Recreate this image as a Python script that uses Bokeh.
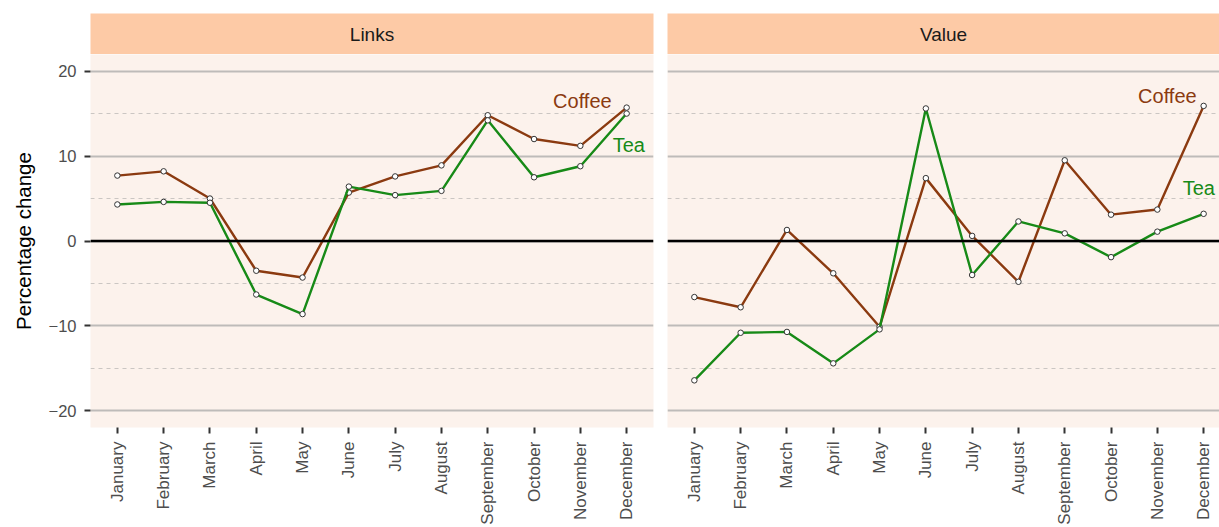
import math
from bokeh.plotting import figure
from bokeh.layouts import column, row
from bokeh.models import Range1d, FixedTicker, Span
from bokeh.core.properties import value
from bokeh.embed import file_html
from bokeh.resources import INLINE

# ---------------- data ----------------
MONTHS = ["January", "February", "March", "April", "May", "June",
          "July", "August", "September", "October", "November", "December"]
PANELS = ["Links", "Value"]
LINKS_COFFEE = [7.7, 8.2, 5.0, -3.5, -4.3, 5.7, 7.6, 8.9, 14.8, 12.0, 11.2, 15.7]
LINKS_TEA = [4.3, 4.6, 4.5, -6.3, -8.6, 6.4, 5.4, 5.9, 14.2, 7.5, 8.8, 15.0]
VALUE_COFFEE = [-6.6, -7.8, 1.3, -3.8, -10.1, 7.4, 0.6, -4.8, 9.5, 3.1, 3.7, 15.9]
VALUE_TEA = [-16.4, -10.8, -10.7, -14.4, -10.4, 15.6, -4.0, 2.3, 0.9, -1.9, 1.1, 3.2]
SERIES = ["Coffee", "Tea"]
Y_TICKS = [-20, -10, 0, 10, 20]
Y_MINOR = [-15, -5, 5, 15]
Y_LABEL = "Percentage change"

# ---------------- style ----------------
FONT = "Liberation Sans"
COFFEE_C = "#8B3A10"
TEA_C = "#178A17"
STRIP_BG = "#FDCAA6"
PANEL_BG = "#FCF2EC"
GRID_C = "#BEBBB9"
MINOR_C = "#CBC6C3"
TICK_C = "#333333"
LABEL_C = "#4D4D4D"

STRIP_TOP = 13
STRIP_FRAME = 41
MAIN_FRAME = 374
BOTTOM_B = 99
Y_LO, Y_HI = -21.95, 21.95
X_LO = -0.58
PX_PER_UNIT = 563 / 12.16

X = list(range(len(MONTHS)))


def strip_fig(name, width, left_b, right_b):
    s = figure(width=width, height=STRIP_TOP + STRIP_FRAME, output_backend="svg",
               toolbar_location=None,
               x_range=Range1d(0, 1), y_range=Range1d(0, 1),
               x_axis_location=None, y_axis_location=None,
               min_border_left=left_b, min_border_right=right_b,
               min_border_top=STRIP_TOP, min_border_bottom=0)
    s.grid.visible = False
    s.background_fill_color = STRIP_BG
    s.border_fill_color = "white"
    s.outline_line_color = None
    s.text(x=[0.5], y=[0.5], text=[name], text_align="center", text_baseline="middle",
           text_font=value(FONT), text_font_size="19px", text_color="#1A1A1A")
    return s


def main_fig(coffee, tea, width, x_end, left_b, right_b, show_y, lab):
    p = figure(width=width, height=MAIN_FRAME + BOTTOM_B, output_backend="svg",
               toolbar_location=None,
               x_range=Range1d(X_LO, x_end), y_range=Range1d(Y_LO, Y_HI),
               y_axis_location="left" if show_y else None,
               min_border_left=left_b, min_border_right=right_b,
               min_border_top=0, min_border_bottom=BOTTOM_B)
    p.background_fill_color = PANEL_BG
    p.border_fill_color = "white"
    p.outline_line_color = None

    p.xgrid.grid_line_color = None
    p.ygrid.ticker = FixedTicker(ticks=Y_TICKS, minor_ticks=Y_MINOR)
    p.ygrid.grid_line_color = GRID_C
    p.ygrid.grid_line_width = 2.2
    p.ygrid.minor_grid_line_color = MINOR_C
    p.ygrid.minor_grid_line_width = 1
    p.ygrid.minor_grid_line_dash = "4 4"

    # x axis
    p.xaxis.ticker = FixedTicker(ticks=X)
    p.xaxis.major_label_overrides = {i: m for i, m in zip(X, MONTHS)}
    p.xaxis.major_label_orientation = math.pi / 2
    p.xaxis.axis_line_color = None
    p.xaxis.major_tick_line_color = TICK_C
    p.xaxis.major_tick_line_width = 2
    p.xaxis.major_tick_out = 6
    p.xaxis.major_tick_in = 0
    p.xaxis.minor_tick_line_color = None
    p.xaxis.major_label_text_font = FONT
    p.xaxis.major_label_text_font_size = "17px"
    p.xaxis.major_label_text_color = LABEL_C
    p.xaxis.major_label_standoff = 8

    if show_y:
        p.yaxis.ticker = FixedTicker(ticks=Y_TICKS, minor_ticks=Y_MINOR)
        p.yaxis.axis_line_color = None
        p.yaxis.major_tick_line_color = TICK_C
        p.yaxis.major_tick_line_width = 2
        p.yaxis.major_tick_out = 6
        p.yaxis.major_tick_in = 0
        p.yaxis.minor_tick_line_color = None
        p.yaxis.major_label_text_font = FONT
        p.yaxis.major_label_text_font_size = "16.5px"
        p.yaxis.major_label_text_color = LABEL_C
        p.yaxis.major_label_standoff = 8
        p.yaxis.axis_label = Y_LABEL
        p.yaxis.axis_label_text_font = FONT
        p.yaxis.axis_label_text_font_size = "20.5px"
        p.yaxis.axis_label_text_font_style = "normal"
        p.yaxis.axis_label_text_color = "#000000"
        p.yaxis.axis_label_standoff = 11

    p.add_layout(Span(location=0, dimension="width", line_color="black", line_width=2.4))

    for vals, col, name in ((coffee, COFFEE_C, SERIES[0]), (tea, TEA_C, SERIES[1])):
        p.line(X, vals, line_color=col, line_width=2.4)
        p.scatter(X, vals, size=5.5, fill_color="white", line_color=TICK_C, line_width=1)
        align, dx, dy = lab[name]
        p.text(x=[X[-1]], y=[vals[-1]], text=[name], text_color=col,
               text_font=value(FONT), text_font_size="20px",
               text_align=align, text_baseline="middle", x_offset=dx, y_offset=dy)
    return p


LEFT_W = 90 + 563 + 7
RIGHT_W = 7 + 552
X_END_L = len(MONTHS) - 1 - X_LO
X_END_R = X_LO + 552 / PX_PER_UNIT

lab_l = {"Coffee": ("right", -15, -7), "Tea": ("left", -14, 31)}
lab_r = {"Coffee": ("right", -7, -10), "Tea": ("left", -21, -26)}

s1 = strip_fig(PANELS[0], LEFT_W, 90, 7)
s2 = strip_fig(PANELS[1], RIGHT_W, 7, 0)
p1 = main_fig(LINKS_COFFEE, LINKS_TEA, LEFT_W, X_END_L, 90, 7, True, lab_l)
p2 = main_fig(VALUE_COFFEE, VALUE_TEA, RIGHT_W, X_END_R, 7, 0, False, lab_r)

layout = column(row(s1, s2), row(p1, p2))
open("out.html", "w").write(file_html(layout, INLINE))
